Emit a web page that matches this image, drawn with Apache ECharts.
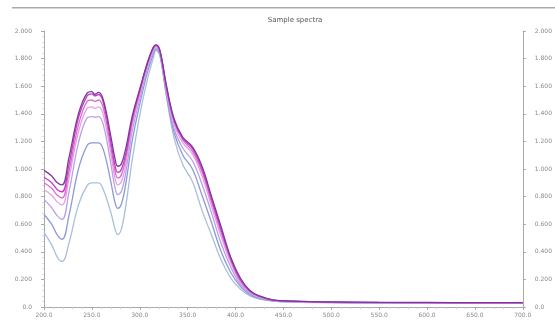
<!DOCTYPE html>
<html><head><meta charset="utf-8">
<script src="https://cdn.jsdelivr.net/npm/echarts@6/dist/echarts.min.js"></script>
<style>html,body{margin:0;padding:0;background:#fff}#c{width:555px;height:324px;filter:blur(0.4px)}</style>
</head><body><div id="c"></div>
<script>
var titleText = 'Sample spectra';
var wavelength = [200,208,214,219,226,236,245,250,253,257,262,270,274,277,281,286,292,300,308,314,317,321,328,336,345,355,365,375,385,395,405,415,425,440,460,500,550,600,650,700];
var s1 = [0.99,0.95,0.90,0.885,1.08,1.40,1.55,1.56,1.54,1.555,1.50,1.23,1.08,1.02,1.04,1.17,1.38,1.58,1.77,1.88,1.90,1.86,1.60,1.36,1.23,1.16,1.02,0.80,0.58,0.36,0.21,0.12,0.08,0.05,0.043,0.037,0.034,0.033,0.032,0.032];
var s2 = [0.94,0.90,0.85,0.835,1.03,1.37,1.53,1.545,1.53,1.54,1.48,1.19,1.03,0.975,1.00,1.13,1.36,1.57,1.77,1.88,1.90,1.86,1.59,1.35,1.22,1.15,1.00,0.78,0.56,0.35,0.20,0.115,0.078,0.05,0.042,0.036,0.033,0.032,0.031,0.031];
var s3 = [0.90,0.86,0.81,0.79,0.98,1.32,1.49,1.50,1.49,1.50,1.44,1.15,0.99,0.935,0.96,1.10,1.34,1.56,1.76,1.87,1.89,1.85,1.58,1.34,1.21,1.13,0.98,0.76,0.54,0.34,0.19,0.11,0.075,0.048,0.041,0.035,0.032,0.031,0.03,0.03];
var s4 = [0.85,0.81,0.76,0.74,0.93,1.27,1.44,1.45,1.44,1.45,1.39,1.10,0.94,0.885,0.91,1.06,1.31,1.54,1.75,1.86,1.89,1.85,1.57,1.32,1.19,1.11,0.95,0.73,0.51,0.32,0.18,0.105,0.072,0.047,0.04,0.034,0.031,0.03,0.03,0.03];
var s5 = [0.78,0.72,0.66,0.635,0.83,1.19,1.37,1.38,1.375,1.38,1.32,1.03,0.87,0.815,0.84,1.00,1.27,1.51,1.73,1.85,1.88,1.84,1.55,1.29,1.15,1.06,0.89,0.68,0.46,0.29,0.165,0.10,0.068,0.045,0.039,0.033,0.03,0.03,0.029,0.029];
var s6 = [0.67,0.60,0.52,0.49,0.66,1.00,1.17,1.19,1.19,1.19,1.14,0.90,0.76,0.715,0.75,0.92,1.20,1.47,1.70,1.83,1.87,1.83,1.53,1.26,1.10,1.00,0.81,0.61,0.40,0.25,0.15,0.09,0.063,0.043,0.037,0.032,0.029,0.029,0.028,0.028];
var s7 = [0.54,0.45,0.36,0.33,0.46,0.74,0.88,0.90,0.90,0.90,0.85,0.68,0.57,0.525,0.57,0.76,1.06,1.39,1.65,1.80,1.86,1.82,1.52,1.22,1.03,0.91,0.70,0.52,0.34,0.21,0.13,0.08,0.058,0.042,0.036,0.031,0.028,0.028,0.027,0.027];
var seriesValues = [s1,s2,s3,s4,s5,s6,s7];
var colors = ['#7a3a9c','#c83cc0','#dc6cd4','#e4a0e4','#b8a0e8','#8c98d8','#a8c0d8'];

var chart = echarts.init(document.getElementById('c'));
function pairs(v){ return wavelength.map(function(x,i){ return [x, v[i]]; }); }
var series = seriesValues.map(function(v,i){
  return { type:'line', data:pairs(v), smooth:0.4, showSymbol:false, symbol:'none',
    lineStyle:{ color:colors[i], width:1.3 }, z: 10 - i, xAxisIndex:0, yAxisIndex:0 };
}).reverse();
var axisLine = { show:true, lineStyle:{ color:'#aaa', width:1 } };
var lbl = { fontSize:6, color:'#888', fontFamily:'DejaVu Sans' };
function yfmt(v){ return v===0 ? '0.0' : v.toFixed(3); }
chart.setOption({
  animation:false,
  title:{ text:titleText, left:290, top:12, textAlign:'center', textStyle:{ fontSize:7, fontWeight:'normal', color:'#555', fontFamily:'DejaVu Sans' } },
  graphic:[{ type:'rect', shape:{ x:12, y:7, width:543, height:1.5 }, style:{ fill:'#aaa' } }],
  grid:{ left:44, right:22, top:31, bottom:17 },
  xAxis:[
    { type:'value', min:200, max:700, interval:50, axisLine:axisLine, axisTick:{ show:true, length:3, lineStyle:{ color:'#aaa' } },
      minorTick:{ show:true, splitNumber:5, length:2, lineStyle:{ color:'#ccc' } }, splitLine:{ show:false },
      axisLabel:Object.assign({ margin:5, formatter:function(v){ return v.toFixed(1); } }, lbl) },
    { type:'value', position:'top', min:200, max:700, interval:50, axisLine:axisLine, axisTick:{ show:true, inside:true, length:3, lineStyle:{ color:'#aaa' } },
      minorTick:{ show:true, splitNumber:5, length:2, lineStyle:{ color:'#ccc' } }, splitLine:{ show:false }, axisLabel:{ show:false } }
  ],
  yAxis:[
    { type:'value', min:0, max:2, interval:0.2, axisLine:axisLine, axisTick:{ show:true, length:3, lineStyle:{ color:'#aaa' } },
      minorTick:{ show:true, splitNumber:5, length:2, lineStyle:{ color:'#ddd' } }, splitLine:{ show:false },
      axisLabel:Object.assign({ margin:12, formatter:yfmt }, lbl) },
    { type:'value', position:'right', min:0, max:2, interval:0.2, axisLine:axisLine, axisTick:{ show:true, length:3, lineStyle:{ color:'#aaa' } },
      splitLine:{ show:false }, axisLabel:Object.assign({ margin:12, formatter:yfmt }, lbl) }
  ],
  series:series
});
</script></body></html>
